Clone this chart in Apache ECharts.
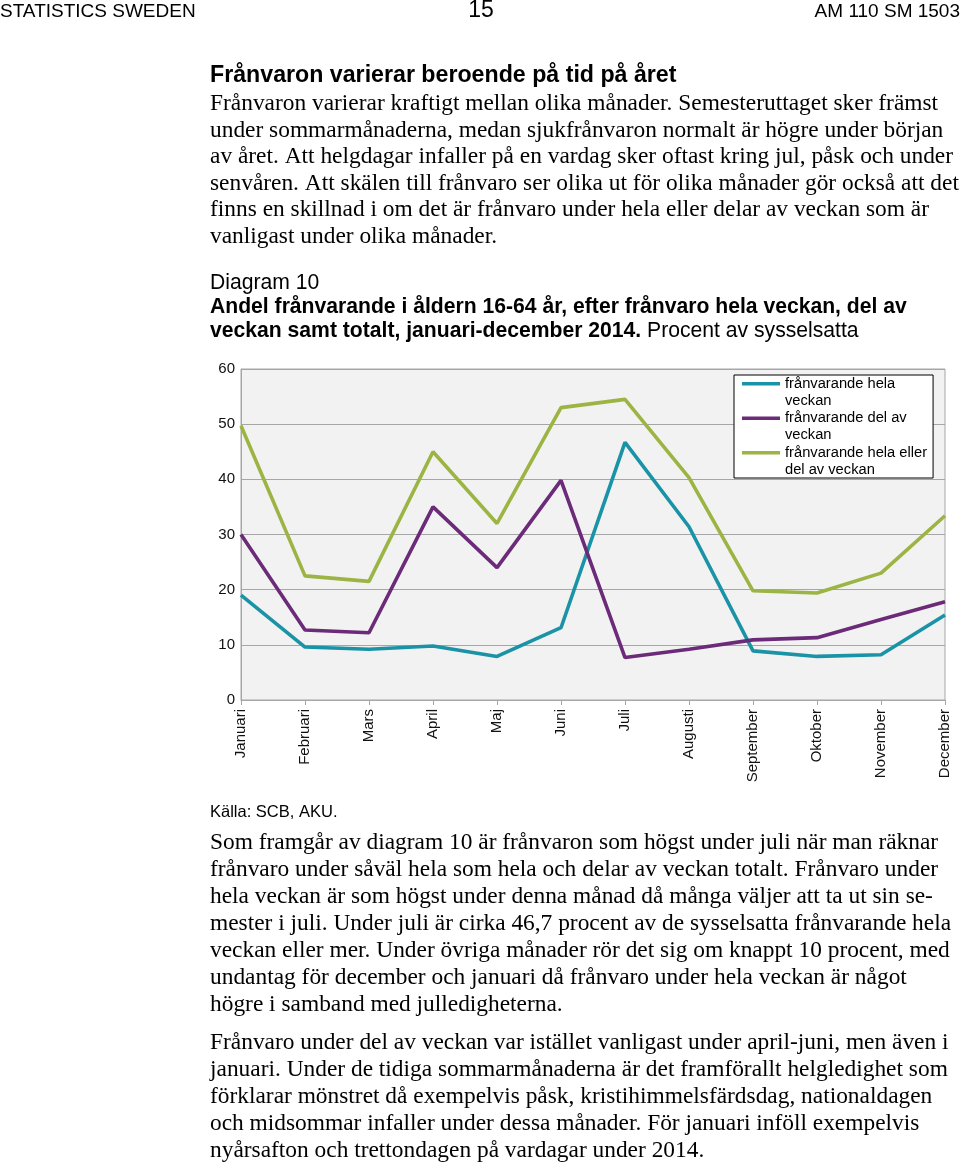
<!DOCTYPE html>
<html>
<head>
<meta charset="utf-8">
<script src="https://cdn.jsdelivr.net/npm/echarts@6/dist/echarts.min.js"></script>
<style>
html,body{margin:0;padding:0;background:#fff;}
#chart{width:960px;height:1167px;}
</style>
</head>
<body>
<div id="chart"></div>
<script>
const months = ['Januari','Februari','Mars','April','Maj','Juni','Juli','Augusti','September','Oktober','November','December'];
const helaVeckan = [19.0, 9.6, 9.2, 9.8, 7.9, 13.1, 46.7, 31.4, 8.9, 7.9, 8.2, 15.4];
const delAvVeckan = [30.0, 12.7, 12.2, 35.0, 24.0, 39.8, 7.7, 9.2, 10.9, 11.3, 14.6, 17.8];
const helaEllerDel = [49.7, 22.5, 21.5, 45.0, 32.0, 53.0, 54.5, 40.3, 19.8, 19.4, 23.0, 33.4];
const seriesNames = ['frånvarande hela veckan', 'frånvarande del av veckan', 'frånvarande hela eller del av veckan'];
const legendLabels = ['frånvarande hela\nveckan', 'frånvarande del av\nveckan', 'frånvarande hela eller\ndel av veckan'];
const yTicks = {min: 0, max: 60, interval: 10};

const header = {left: 'STATISTICS SWEDEN', page: '15', right: 'AM 110 SM 1503'};
const heading = 'Frånvaron varierar beroende på tid på året';
const para1 = [
  'Frånvaron varierar kraftigt mellan olika månader. Semesteruttaget sker främst',
  'under sommarmånaderna, medan sjukfrånvaron normalt är högre under början',
  'av året. Att helgdagar infaller på en vardag sker oftast kring jul, påsk och under',
  'senvåren. Att skälen till frånvaro ser olika ut för olika månader gör också att det',
  'finns en skillnad i om det är frånvaro under hela eller delar av veckan som är',
  'vanligast under olika månader.'
];
const diagramLabel = 'Diagram 10';
const titleLine1 = 'Andel frånvarande i åldern 16-64 år, efter frånvaro hela veckan, del av';
const titleLine2Bold = 'veckan samt totalt, januari-december 2014.';
const titleLine2Rest = ' Procent av sysselsatta';
const source = 'Källa: SCB, AKU.';
const para2 = [
  'Som framgår av diagram 10 är frånvaron som högst under juli när man räknar',
  'frånvaro under såväl hela som hela och delar av veckan totalt. Frånvaro under',
  'hela veckan är som högst under denna månad då många väljer att ta ut sin se-',
  'mester i juli. Under juli är cirka 46,7 procent av de sysselsatta frånvarande hela',
  'veckan eller mer. Under övriga månader rör det sig om knappt 10 procent, med',
  'undantag för december och januari då frånvaro under hela veckan är något',
  'högre i samband med julledigheterna.'
];
const para3 = [
  'Frånvaro under del av veckan var istället vanligast under april-juni, men även i',
  'januari. Under de tidiga sommarmånaderna är det framförallt helgledighet som',
  'förklarar mönstret då exempelvis påsk, kristihimmelsfärdsdag, nationaldagen',
  'och midsommar infaller under dessa månader. För januari inföll exempelvis',
  'nyårsafton och trettondagen på vardagar under 2014.'
];

const SANS = '"Liberation Sans", Arial, sans-serif';
const SERIF = '"Liberation Serif", "Times New Roman", serif';
const colors = ['#1a93a7', '#6b2b78', '#9cb443'];

const graphics = [];
function txt(x, y, text, font, extra) {
  graphics.push({
    type: 'text', x: x, y: y,
    style: Object.assign({text: text, font: font, fill: '#000', textVerticalAlign: 'middle'}, extra || {})
  });
}
const bodyFont = '23.4px ' + SERIF;
const capFont = '21.15px ' + SANS;
txt(0, 12, header.left, '19px ' + SANS);
txt(481, 11, header.page, '23px ' + SANS, {textAlign: 'center'});
txt(960, 12, header.right, '19px ' + SANS, {textAlign: 'right'});
txt(210, 76, heading, 'bold 23.2px ' + SANS);
para1.forEach((l, i) => txt(210, 104 + i * 26.5, l, bodyFont));
txt(210, 283, diagramLabel, capFont);
txt(210, 307, titleLine1, 'bold ' + capFont);
txt(210, 331, titleLine2Bold, 'bold ' + capFont);
txt(210, 812, source, '16.5px ' + SANS);
para2.forEach((l, i) => txt(210, 843 + i * 26.9, l, bodyFont));
para3.forEach((l, i) => txt(210, 1043 + i * 26.9, l, bodyFont));

const ctx = document.createElement('canvas').getContext('2d');
ctx.font = 'bold ' + capFont;
const boldW = ctx.measureText(titleLine2Bold).width;
txt(210 + boldW, 331, titleLine2Rest, capFont);

const chart = echarts.init(document.getElementById('chart'), null, {renderer: 'canvas'});
const iconPath = 'path://M0,7H38V10.5H0Z M0,0H0.01V0.01H0Z M37.99,33.99H38V34H37.99Z';

chart.setOption({
  backgroundColor: '#fff',
  animation: false,
  grid: {left: 241, top: 369, width: 704, height: 331, show: true, backgroundColor: '#f2f2f2', borderColor: '#a6a6a6', borderWidth: 1, containLabel: false},
  legend: {
    orient: 'vertical', left: 734, top: 375,
    data: seriesNames.map(n => ({name: n, icon: iconPath})),
    itemWidth: 38, itemHeight: 34, itemGap: 0.5,
    padding: [0, 6, 0, 8],
    backgroundColor: '#fff', borderColor: '#000', borderWidth: 1,
    itemStyle: {borderWidth: 0},
    formatter: name => legendLabels[seriesNames.indexOf(name)],
    textStyle: {fontFamily: SANS, fontSize: 14.7, lineHeight: 17, color: '#000'}
  },
  xAxis: {
    type: 'category', data: months, boundaryGap: false,
    axisLine: {show: true, lineStyle: {color: '#a6a6a6', width: 1}},
    axisTick: {show: true, length: 5, lineStyle: {color: '#a6a6a6'}},
    axisLabel: {rotate: 90, fontFamily: SANS, fontSize: 15, color: '#111', margin: 9, interval: 0},
    splitLine: {show: false}
  },
  yAxis: {
    type: 'value', min: yTicks.min, max: yTicks.max, interval: yTicks.interval,
    axisLine: {show: true, lineStyle: {color: '#a6a6a6', width: 1}},
    axisTick: {show: false},
    axisLabel: {fontFamily: SANS, fontSize: 15, color: '#111', margin: 6},
    splitLine: {show: true, lineStyle: {color: '#a6a6a6', width: 1}}
  },
  series: [helaVeckan, delAvVeckan, helaEllerDel].map((d, i) => ({
    name: seriesNames[i], type: 'line', data: d, symbol: 'none',
    lineStyle: {width: 3.6, color: colors[i]}, itemStyle: {color: colors[i]},
    z: 3 + i
  })),
  graphic: graphics
});
</script>
</body>
</html>
